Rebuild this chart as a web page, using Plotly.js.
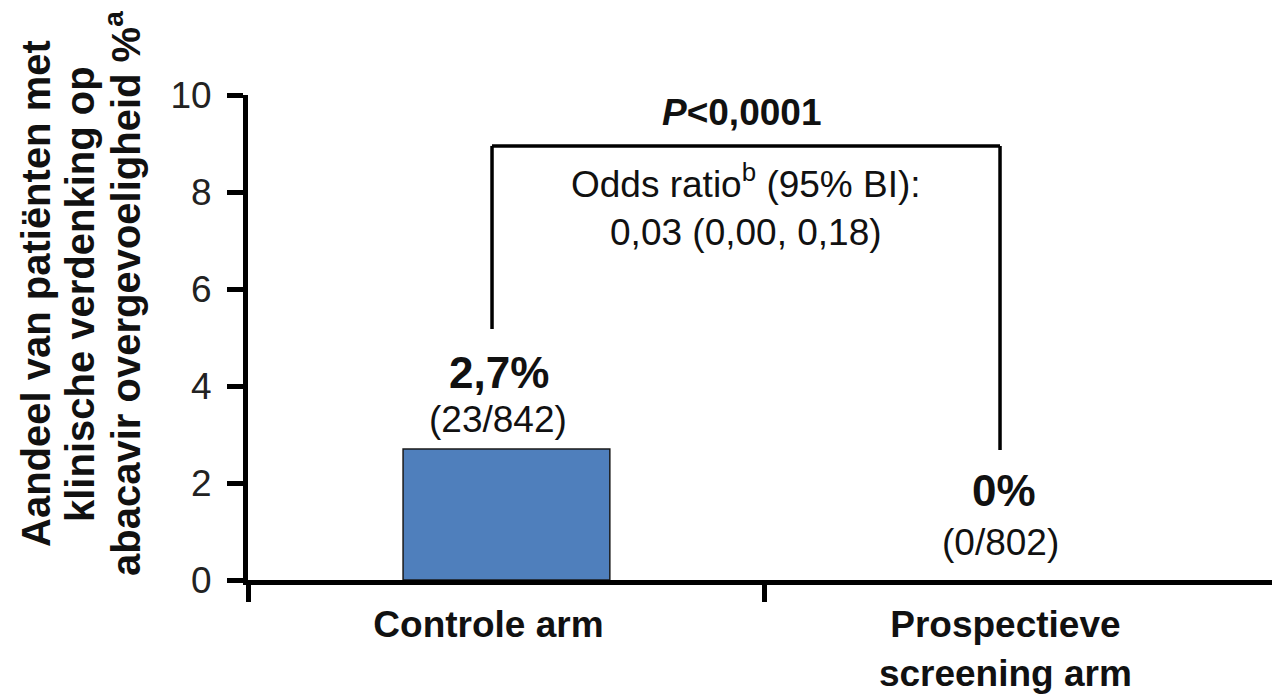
<!DOCTYPE html>
<html>
<head>
<meta charset="utf-8">
<script src="https://cdn.plot.ly/plotly-3.0.1.min.js"></script>
<style>html,body{margin:0;padding:0;background:#fff;}#chart{width:1272px;height:695px;}</style>
</head>
<body>
<div id="chart"></div>
<script>
// ---- data ----
var categories = ["Controle arm", "Prospectieve screening arm"];
var tickLabels = ["Controle arm", "Prospectieve<br>screening arm"];
var values = [2.7, 0];          // % patients with clinically suspected HSR
var events = [23, 0];
var totals = [842, 802];
var yTicks = [0, 2, 4, 6, 8, 10];
var yTitleLines = ["Aandeel van patiënten met", "klinische verdenking op", "abacavir overgevoeligheid %<sup>a</sup>"];
var pText = "<b><i>P</i>&lt;0,0001</b>";
var oddsText = "Odds ratio<sup>b</sup> (95% BI):<br>0,03 (0,00, 0,18)";

// ---- styling / layout ----
var FONT = "Liberation Sans, Arial, sans-serif";
var TXT = "#111111";

var pctLabels = values.map(function (v) { return String(v).replace(".", ",") + "%"; });
var countLabels = events.map(function (e, i) { return "(" + e + "/" + totals[i] + ")"; });

var trace = {
  type: "bar",
  x: categories,
  y: values,
  width: 0.4,
  marker: { color: "#4F7FBC", line: { color: "#1a1a1a", width: values.map(function (v) { return v > 0 ? 1.5 : 0; }) } },
  hoverinfo: "skip"
};

// label offsets (pixels) relative to the top of each bar
var pctShift = [[-7.5, 77], [-19.5, 90]];
var cntShift = [[-8.5, 30], [-22.5, 38]];

var annotations = [];
categories.forEach(function (c, i) {
  annotations.push({
    xref: "x", yref: "y", x: i, y: values[i], xanchor: "center", yanchor: "middle",
    xshift: pctShift[i][0], yshift: pctShift[i][1], showarrow: false,
    text: "<b>" + pctLabels[i] + "</b>", font: { family: FONT, size: 44, color: TXT }
  });
  annotations.push({
    xref: "x", yref: "y", x: i, y: values[i], xanchor: "center", yanchor: "middle",
    xshift: cntShift[i][0], yshift: cntShift[i][1], showarrow: false,
    text: countLabels[i], font: { family: FONT, size: 37, color: TXT }
  });
});

annotations.push({
  xref: "paper", yref: "paper", x: 0.4824, y: 0.9645, xanchor: "center", yanchor: "middle",
  showarrow: false, text: pText, font: { family: FONT, size: 37, color: TXT }
});
annotations.push({
  xref: "paper", yref: "paper", x: 0.4863, y: 0.7718, xanchor: "center", yanchor: "middle",
  showarrow: false, text: oddsText, font: { family: FONT, size: 37, color: TXT }
});

var titleX = [-212, -168, -125];
yTitleLines.forEach(function (t, i) {
  annotations.push({
    xref: "paper", yref: "paper", x: 0, y: 0.5897, xanchor: "center", yanchor: "middle",
    xshift: titleX[i], textangle: -90, showarrow: false,
    text: "<b>" + t + "</b>", font: { family: FONT, size: 40, color: TXT }
  });
});

var LW = 3.5;
var shapes = [
  { type: "line", xref: "paper", yref: "y", x0: 0.2383, x1: 0.2383, y0: 5.175, y1: 8.95, line: { color: "#000", width: LW } },
  { type: "line", xref: "paper", yref: "y", x0: 0.2383, x1: 0.7344, y0: 8.95, y1: 8.95, line: { color: "#000", width: LW } },
  { type: "line", xref: "paper", yref: "y", x0: 0.7344, x1: 0.7344, y0: 2.68, y1: 8.95, line: { color: "#000", width: LW } }
];

var layout = {
  width: 1272, height: 695,
  margin: { l: 248, r: 0, t: 95, b: 115, pad: 0 },
  paper_bgcolor: "#fff", plot_bgcolor: "#fff",
  showlegend: false,
  font: { family: FONT, color: TXT },
  xaxis: {
    type: "category",
    categoryorder: "array", categoryarray: categories,
    tickmode: "array", tickvals: categories, ticktext: tickLabels.map(function (t) { return "<b>" + t.replace("<br>", "</b><br><b>") + "</b>"; }),
    range: [-0.5, 1.481],
    tickson: "boundaries",
    ticks: "outside", ticklen: 17, tickwidth: 5, tickcolor: "#000",
    showline: true, linewidth: 5, linecolor: "#000",
    showgrid: false, zeroline: false,
    ticklabelshift: -18, ticklabelstandoff: 8,
    tickfont: { family: FONT, size: 37, color: TXT }
  },
  yaxis: {
    range: [0, 10],
    tickmode: "array", tickvals: yTicks, ticktext: yTicks.map(String),
    ticks: "outside", ticklen: 16, tickwidth: 5, tickcolor: "#000",
    showline: true, linewidth: 5, linecolor: "#000",
    showgrid: false, zeroline: false,
    ticklabelstandoff: 8,
    tickfont: { family: FONT, size: 37, color: "#222" }
  },
  annotations: annotations,
  shapes: shapes
};

Plotly.newPlot("chart", [trace], layout, { staticPlot: true, displayModeBar: false });
</script>
</body>
</html>
